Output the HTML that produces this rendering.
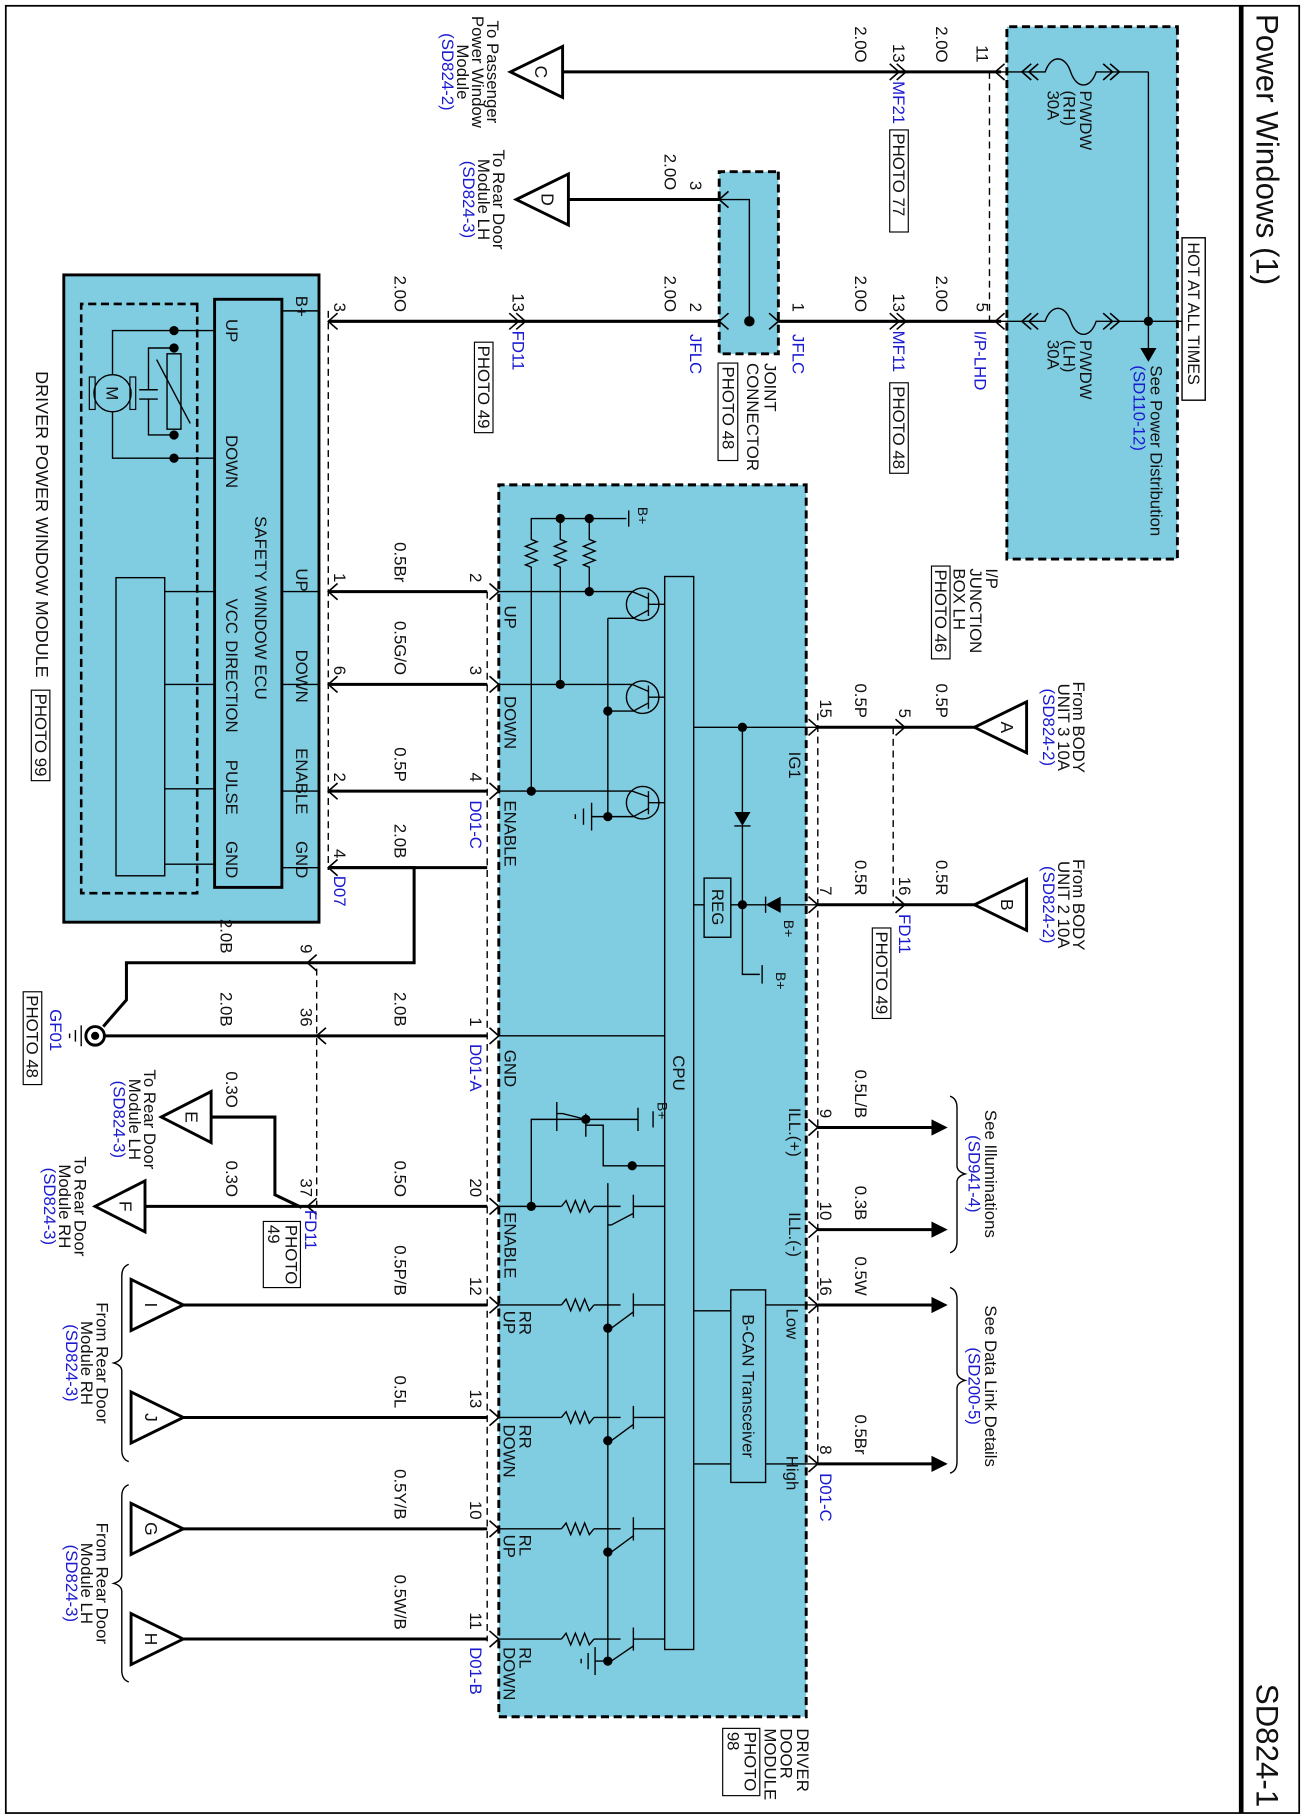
<!DOCTYPE html>
<html><head><meta charset="utf-8"><style>
html,body{margin:0;padding:0;background:#fff}
svg{display:block}
text{font-family:"Liberation Sans",sans-serif;font-size:14.5px;fill:#111}
.b{fill:#1a1ad0}
.w{stroke:#000;stroke-width:2.6;fill:none}
.l{stroke:#000;stroke-width:1.2;fill:none}
.d{stroke:#000;stroke-width:1.2;fill:none;stroke-dasharray:6 4}
.bx{fill:#80cde2;stroke:#000;stroke-width:2.5;stroke-dasharray:7 4}
.m{text-anchor:middle}
.e{text-anchor:end}
</style></head><body>
<svg width="1305" height="1820" viewBox="0 0 1125 1569" preserveAspectRatio="none" xmlns="http://www.w3.org/2000/svg">
<defs>
<path id="cv" d="M-7,-8 L0,0 L7,-8" fill="none" stroke="#000" stroke-width="1.4"/>
<path id="cu" d="M-7,8 L0,0 L7,8" fill="none" stroke="#000" stroke-width="1.4"/>
<path id="rz" d="M0,0 L8,0 L10,-5 L14,5 L18,-5 L22,5 L26,-5 L30,5 L32,0 L40,0" fill="none" stroke="#000" stroke-width="1.2"/>
</defs>
<g transform="translate(1125,0) rotate(90)">
<rect x="5" y="5" width="1558" height="1115" fill="none" stroke="#000" stroke-width="1.5"/>
<line x1="5" y1="55" x2="1563" y2="55" stroke="#000" stroke-width="4"/>
<text x="12" y="42" style="font-size:27px">Power Windows (1)</text>
<text x="1558" y="42" style="font-size:27px;text-anchor:end">SD824-1</text>

<rect class="bx" x="23" y="110" width="459" height="147"/>
<rect x="205" y="86" width="140" height="20" fill="#fff" stroke="#000" stroke-width="1.2"/>
<text x="209" y="101" style="font-size:14px">HOT AT ALL TIMES</text>
<path class="l" d="M277,106 L277,135 M62,135 L277,135 M277,135 L302,135"/>
<path d="M300,128 L312,135 L300,142 Z" fill="#000"/>
<circle cx="277" cy="135" r="4"/>
<text x="315" y="133">See Power Distribution</text>
<text x="315" y="148" class="b">(SD110-12)</text>
<text x="490" y="275">I/P</text><text x="490" y="289">JUNCTION</text><text x="490" y="303">BOX LH</text>
<rect x="488" y="306" width="80" height="16" fill="#fff" stroke="#000"/><text x="491" y="319">PHOTO 46</text>
<path class="l" d="M62,135 L62,180 C77,185 77,197 62,202 C47,207 47,219 62,224 L62,267"/>
<path class="l" d="M277,135 L277,180 C292,185 292,197 277,202 C262,207 262,219 277,224 L277,267"/>
<use href="#cu" x="62" y="160"/><use href="#cu" x="62" y="166"/><use href="#cv" x="62" y="238"/><use href="#cv" x="62" y="244"/>
<use href="#cu" x="277" y="160"/><use href="#cu" x="277" y="166"/><use href="#cv" x="277" y="238"/><use href="#cv" x="277" y="244"/>
<text x="78" y="194">P/WDW</text><text x="78" y="208">(RH)</text><text x="78" y="222">30A</text>
<text x="293" y="194">P/WDW</text><text x="293" y="208">(LH)</text><text x="293" y="222">30A</text>
<use href="#cv" x="62" y="267"/><use href="#cv" x="277" y="267"/>
<line class="d" x1="62" y1="272" x2="277" y2="272"/>

<path class="w" d="M62,262 L62,640"/>
<text x="54" y="283" class="e">11</text>
<text x="54" y="318" class="e">2.0O</text>
<use href="#cu" x="62" y="344"/><use href="#cu" x="62" y="350"/>
<text x="54" y="355" class="e">13</text><text x="70" y="355" class="b">MF21</text>
<rect x="112" y="342" width="88" height="16" fill="#fff" stroke="#000"/><text x="115" y="355">PHOTO 77</text>
<text x="54" y="388" class="e">2.0O</text>
<path d="M40,640 L84,640 L62,685 Z" fill="#fff" stroke="#000" stroke-width="2.5"/>
<text x="62" y="664" class="m" style="font-size:15px">C</text>
<text x="62" y="705" class="m">To Passenger</text><text x="62" y="718" class="m">Power Window</text><text x="62" y="731" class="m">Module</text><text x="62" y="744" class="m b">(SD824-2)</text>

<rect class="bx" x="148" y="454" width="157" height="51"/>
<path class="l" d="M172,505 L172,479 L277,479"/>
<circle cx="277" cy="479" r="4.5"/>
<path class="w" d="M172,505 L172,635"/>
<use href="#cv" x="172" y="505"/>
<text x="164" y="530" class="e">3</text><text x="164" y="552" class="e">2.0O</text>
<path d="M150,635 L194,635 L172,680 Z" fill="#fff" stroke="#000" stroke-width="2.5"/>
<text x="172" y="658" class="m" style="font-size:15px">D</text>
<text x="172" y="700" class="m">To Rear Door</text><text x="172" y="713" class="m">Module LH</text><text x="172" y="726" class="m b">(SD824-3)</text>
<text x="313" y="466">JOINT</text><text x="313" y="481">CONNECTOR</text>
<rect x="313" y="489" width="84" height="17" fill="#fff" stroke="#000"/><text x="316" y="502">PHOTO 48</text>

<path class="w" d="M277,262 L277,454 M277,505 L277,842"/>
<use href="#cu" x="277" y="454"/><use href="#cv" x="277" y="505"/>
<text x="269" y="283" class="e">5</text><text x="285" y="285" class="b">I/P-LHD</text>
<text x="269" y="318" class="e">2.0O</text>
<use href="#cu" x="277" y="344"/><use href="#cu" x="277" y="350"/>
<text x="269" y="355" class="e">13</text><text x="285" y="355" class="b">MF11</text>
<rect x="330" y="342" width="78" height="16" fill="#fff" stroke="#000"/><text x="333" y="355">PHOTO 48</text>
<text x="269" y="388" class="e">2.0O</text>
<text x="269" y="442" class="e">1</text><text x="288" y="442" class="b">JFLC</text>
<text x="269" y="530" class="e">2</text><text x="288" y="530" class="b">JFLC</text>
<text x="269" y="552" class="e">2.0O</text>
<use href="#cu" x="277" y="672"/><use href="#cu" x="277" y="678"/>
<text x="269" y="683" class="e">13</text><text x="285" y="683" class="b">FD11</text>
<rect x="295" y="700" width="78" height="16" fill="#fff" stroke="#000"/><text x="298" y="713">PHOTO 49</text>
<text x="269" y="785" class="e">2.0O</text>
<text x="269" y="837" class="e">3</text>
<use href="#cv" x="277" y="842"/>

<rect x="237" y="850" width="558" height="220" fill="#80cde2" stroke="#000" stroke-width="2.5"/>
<rect x="262" y="955" width="508" height="100" fill="none" stroke="#000" stroke-width="2.2" stroke-dasharray="7 4"/>
<rect x="258" y="882" width="507" height="58" fill="none" stroke="#000" stroke-width="2.5"/>
<path class="l" d="M268,850 L268,882"/>
<text x="255" y="870">B+</text>
<text x="275" y="930">UP</text><text x="375" y="930">DOWN</text>
<text x="445" y="905">SAFETY WINDOW ECU</text>
<text x="516" y="930">VCC</text><text x="552" y="930">DIRECTION</text><text x="655" y="930">PULSE</text><text x="725" y="930">GND</text>
<text x="490" y="870">UP</text><text x="560" y="870">DOWN</text><text x="645" y="870">ENABLE</text><text x="725" y="870">GND</text>
<path class="l" d="M510,850 L510,882 M590,850 L590,882 M682,850 L682,882 M748,850 L748,882"/>
<path class="l" d="M285,940 L285,1028 L323,1028 M355,1028 L395,1028 L395,940 M300,975 L300,997 L336,997 M344,997 L375,997 L375,975"/>
<path class="l" d="M336,989 L336,1005 M344,989 L344,1005"/>
<rect x="305" y="969" width="65" height="12" fill="none" stroke="#000" stroke-width="1.2"/>
<path class="l" d="M310,990 L365,961"/>
<circle cx="339" cy="1028" r="16" fill="none" stroke="#000" stroke-width="1.2"/>
<rect x="325" y="1008" width="28" height="5" fill="none" stroke="#000"/><rect x="325" y="1043" width="28" height="5" fill="none" stroke="#000"/>
<text x="339" y="1033" class="m">M</text>
<circle cx="285" cy="975" r="4"/><circle cx="300" cy="975" r="4"/><circle cx="375" cy="975" r="4"/><circle cx="395" cy="975" r="4"/>
<rect x="498" y="983" width="257" height="42" fill="none" stroke="#000" stroke-width="1.2"/>
<path class="l" d="M510,940 L510,983 M590,940 L590,983 M680,940 L680,983 M745,940 L745,983"/>
<text x="320" y="1094" style="font-size:15.5px">DRIVER POWER WINDOW MODULE</text>
<rect x="595" y="1082" width="78" height="16" fill="#fff" stroke="#000"/><text x="598" y="1095">PHOTO 99</text>
<line class="d" x1="268" y1="842" x2="750" y2="842"/>

<path class="w" d="M510,705 L510,842 M590,705 L590,842 M682,705 L682,842 M748,705 L748,842"/>
<use href="#cv" x="510" y="842"/><use href="#cv" x="590" y="842"/><use href="#cv" x="682" y="842"/><use href="#cv" x="748" y="842"/>
<text x="502" y="720" class="e">2</text><text x="502" y="837" class="e">1</text><text x="502" y="785" class="e">0.5Br</text>
<text x="582" y="720" class="e">3</text><text x="582" y="837" class="e">6</text><text x="582" y="785" class="e">0.5G/O</text>
<text x="674" y="720" class="e">4</text><text x="674" y="837" class="e">2</text><text x="674" y="785" class="e">0.5P</text><text x="690" y="720" class="b">D01-C</text>
<text x="740" y="837" class="e">4</text><text x="755" y="837" class="b">D07</text><text x="740" y="785" class="e">2.0B</text>
<path class="w" d="M748,842 L748,768 L830,768 L830,1016 L862,1016 L885,1036"/>
<text x="822" y="935" class="e">2.0B</text>
<use href="#cv" x="830" y="860"/><text x="822" y="866" class="e">9</text>
<line class="d" x1="835" y1="852" x2="1040" y2="852"/>

<rect class="bx" x="418" y="430" width="1062" height="265"/>
<text x="1490" y="438">DRIVER</text><text x="1490" y="452">DOOR</text><text x="1490" y="466">MODULE</text>
<rect x="1490" y="470" width="58" height="32" fill="#fff" stroke="#000"/><text x="1493" y="483">PHOTO</text><text x="1493" y="498">98</text>
<line class="d" x1="510" y1="705" x2="1415" y2="705"/>
<line class="d" x1="615" y1="420" x2="1265" y2="420"/>
<line class="d" x1="627" y1="355" x2="780" y2="355"/>
<rect x="497" y="527" width="925" height="25" fill="none" stroke="#000" stroke-width="1.2"/>
<text x="925" y="545" class="m">CPU</text>
<path class="l" d="M447,617 L447,667 L457,667 M447,642 L457,642 M447,617 L457,617 M447,617 L447,585"/>
<path class="l" d="M440,583 L454,583" stroke-width="3"/><text x="437" y="575" style="font-size:12px">B+</text>
<use href="#rz" x="457" y="617"/><use href="#rz" x="457" y="642"/><use href="#rz" x="457" y="667"/>
<path class="l" d="M497,617 L510,617 M497,642 L590,642 M497,667 L682,667"/>
<circle cx="447" cy="617" r="4"/><circle cx="447" cy="642" r="4"/>
<circle cx="510" cy="617" r="4"/><circle cx="590" cy="642" r="4"/><circle cx="682" cy="667" r="4"/>
<path class="l" d="M510,695 L510,580 M590,695 L590,580 M682,695 L682,580"/>
<circle cx="521" cy="571" r="14" fill="none" stroke="#000" stroke-width="1.2"/>
<circle cx="601" cy="571" r="14" fill="none" stroke="#000" stroke-width="1.2"/>
<circle cx="692" cy="571" r="14" fill="none" stroke="#000" stroke-width="1.2"/>
<path class="l" d="M511,566 L531,566 M521,566 L521,552 M516,566 L510,580 M526,566 L533,579 L533,601 M591,566 L611,566 M601,566 L601,552 M596,566 L590,580 M606,566 L613,579 L613,601 M682,566 L702,566 M692,566 L692,552 M687,566 L682,580 M697,566 L704,579 L704,601 M533,601 L704,601 L704,615"/>
<circle cx="613" cy="601" r="4"/><circle cx="704" cy="601" r="4"/>
<path class="l" d="M692,615 L716,615 M697,622 L711,622 M702,629 L706,629"/>
<text x="522" y="690">UP</text><text x="600" y="690">DOWN</text><text x="690" y="690">ENABLE</text>
<use href="#cu" x="510" y="695"/><use href="#cu" x="590" y="695"/><use href="#cu" x="682" y="695"/>
<path class="l" d="M627,527 L627,420 M627,485 L700,485 M712,485 L780,485 M780,420 L780,452 M780,465 L780,495 M780,518 L780,527 M780,485 L840,485 L840,470"/>
<path d="M700,478 L700,492 L712,485 Z" fill="#000"/><path class="l" d="M712,478 L712,492 M773,465 L787,465 M832,468 L848,468" stroke-width="2"/>
<path d="M773,452 L787,452 L780,465 Z" fill="#000"/>
<circle cx="627" cy="485" r="4"/><circle cx="780" cy="485" r="4"/>
<rect x="757" y="495" width="51" height="23" fill="none" stroke="#000" stroke-width="1.2"/>
<text x="782" y="511" class="m">REG</text>
<text x="648" y="445">IG1</text>
<text x="793" y="449" style="font-size:12px">B+</text><text x="838" y="456" style="font-size:12px">B+</text>
<path class="w" d="M627,420 L627,285 M780,420 L780,285"/>
<use href="#cu" x="627" y="420"/><use href="#cu" x="780" y="420"/>
<use href="#cu" x="627" y="345"/><use href="#cu" x="780" y="345"/>
<text x="619" y="418" class="e">15</text><text x="619" y="388" class="e">0.5P</text><text x="619" y="350" class="e">5</text><text x="619" y="318" class="e">0.5P</text>
<text x="772" y="418" class="e">7</text><text x="772" y="388" class="e">0.5R</text><text x="772" y="350" class="e">16</text><text x="772" y="318" class="e">0.5R</text>
<text x="788" y="350" class="b">FD11</text>
<rect x="800" y="357" width="78" height="16" fill="#fff" stroke="#000"/><text x="803" y="370">PHOTO 49</text>
<path d="M627,285 L605,240 L649,240 Z" fill="#fff" stroke="#000" stroke-width="2.5"/><text x="627" y="262" class="m" style="font-size:15px">A</text>
<path d="M780,285 L758,240 L802,240 Z" fill="#fff" stroke="#000" stroke-width="2.5"/><text x="780" y="262" class="m" style="font-size:15px">B</text>
<text x="627" y="200" class="m">From BODY</text><text x="627" y="213" class="m">UNIT 3 10A</text><text x="627" y="226" class="m b">(SD824-2)</text>
<text x="780" y="200" class="m">From BODY</text><text x="780" y="213" class="m">UNIT 2 10A</text><text x="780" y="226" class="m b">(SD824-2)</text>
<path class="w" d="M972,420 L972,318 M1060,420 L1060,318"/>
<path d="M972,308 L965,322 L979,322 Z M1060,308 L1053,322 L1067,322 Z"/>
<use href="#cu" x="972" y="420"/><use href="#cu" x="1060" y="420"/>
<text x="955" y="445">ILL.(+)</text><text x="1045" y="445">ILL.(-)</text>
<text x="964" y="418" class="e">9</text><text x="964" y="388" class="e">0.5L/B</text>
<text x="1052" y="418" class="e">10</text><text x="1052" y="388" class="e">0.3B</text>
<path class="l" d="M945,306 Q947,300 955,300 L1005,300 Q1010,300 1012,293 Q1014,300 1019,300 L1070,300 Q1078,300 1080,306"/>
<text x="1012" y="276" class="m">See Illuminations</text><text x="1012" y="290" class="m b">(SD941-4)</text>
<rect x="1112" y="465" width="166" height="30" fill="none" stroke="#000" stroke-width="1.2"/>
<text x="1195" y="485" class="m">B-CAN Transceiver</text>
<path class="l" d="M1125,465 L1125,420 M1262,465 L1262,420 M1130,495 L1130,527 M1262,495 L1262,527"/>
<path class="w" d="M1125,420 L1125,318 M1262,420 L1262,318"/>
<path d="M1125,308 L1118,322 L1132,322 Z M1262,308 L1255,322 L1269,322 Z"/>
<use href="#cu" x="1125" y="420"/><use href="#cu" x="1262" y="420"/>
<text x="1128" y="447">Low</text><text x="1255" y="447">High</text>
<text x="1117" y="418" class="e">16</text><text x="1117" y="388" class="e">0.5W</text>
<text x="1254" y="418" class="e">8</text><text x="1254" y="388" class="e">0.5Br</text><text x="1270" y="418" class="b">D01-C</text>
<path class="l" d="M1110,306 Q1112,300 1120,300 L1183,300 Q1188,300 1190,293 Q1192,300 1197,300 L1260,300 Q1268,300 1270,306"/>
<text x="1195" y="276" class="m">See Data Link Details</text><text x="1195" y="290" class="m b">(SD200-5)</text>

<path class="w" d="M893,705 L893,1035"/>
<path class="l" d="M893,695 L893,552"/>
<use href="#cu" x="893" y="695"/><use href="#cv" x="893" y="852"/>
<circle cx="893" cy="1043" r="8" fill="#fff" stroke="#000" stroke-width="2.5"/><circle cx="893" cy="1043" r="3.5"/>
<path class="l" d="M884,1055 L902,1055 M888,1060 L898,1060 M891,1065 L895,1065" stroke-width="1.5"/>
<text x="885" y="720" class="e">1</text><text x="900" y="720" class="b">D01-A</text><text x="905" y="690">GND</text>
<text x="885" y="785" class="e">2.0B</text><text x="885" y="866" class="e">36</text><text x="885" y="935" class="e">2.0B</text>
<text x="870" y="1082" class="b">GF01</text>
<rect x="855" y="1089" width="80" height="16" fill="#fff" stroke="#000"/><text x="858" y="1102">PHOTO 48</text>

<path class="w" d="M1040,705 L1040,1000 M1041,865 L1030,888 L963,888 L963,943"/>
<use href="#cu" x="1040" y="695"/><use href="#cv" x="1040" y="860"/>
<text x="1032" y="720" class="e">20</text><text x="1045" y="690">ENABLE</text><text x="1032" y="785" class="e">0.5O</text>
<text x="1032" y="866" class="e">37</text><text x="1043" y="862" class="b">FD11</text>
<rect x="1053" y="866" width="57" height="32" fill="#fff" stroke="#000"/><text x="1056" y="879">PHOTO</text><text x="1056" y="894">49</text>
<text x="955" y="930" class="e">0.3O</text><text x="1032" y="930" class="e">0.3O</text>
<path d="M941,943 L985,943 L963,986 Z" fill="#fff" stroke="#000" stroke-width="2.5"/><text x="963" y="965" class="m" style="font-size:15px">E</text>
<path d="M1018,1000 L1062,1000 L1040,1043 Z" fill="#fff" stroke="#000" stroke-width="2.5"/><text x="1040" y="1022" class="m" style="font-size:15px">F</text>
<text x="965" y="1001" class="m">To Rear Door</text><text x="965" y="1014" class="m">Module LH</text><text x="965" y="1027" class="m b">(SD824-3)</text>
<text x="1040" y="1061" class="m">To Rear Door</text><text x="1040" y="1074" class="m">Module RH</text><text x="1040" y="1087" class="m b">(SD824-3)</text>
<path class="l" d="M1040,667 L965,667 L965,620 M965,620 L965,575 M955,575 L975,575 M958,562 L972,562"/>
<path class="l" d="M960,620 L980,620 M970,620 L970,605 L1005,605 L1005,552 M965,620 L960,640 L960,645 M950,645 L975,645"/>
<circle cx="965" cy="620" r="4"/><circle cx="1005" cy="580" r="4"/>
<text x="950" y="558" style="font-size:12px">B+</text>
<circle cx="1040" cy="667" r="4"/>
<path class="l" d="M1020,601 L1432,601"/>
<g class="l">
<path d="M1040,695 L1040,641 M1040,613 L1040,590"/>
<path d="M1030,579 L1050,579 M1040,579 L1040,552 M1046,579 L1056,598 L1056,601"/>
<path d="M1125,695 L1125,641 M1125,613 L1125,590 M1115,579 L1135,579 M1125,579 L1125,552 M1131,579 L1145,598 L1145,601"/>
<path d="M1222,695 L1222,641 M1222,613 L1222,590 M1212,579 L1232,579 M1222,579 L1222,552 M1228,579 L1242,598 L1242,601"/>
<path d="M1318,695 L1318,641 M1318,613 L1318,590 M1308,579 L1328,579 M1318,579 L1318,552 M1324,579 L1338,598 L1338,601"/>
<path d="M1413,695 L1413,641 M1413,613 L1413,590 M1403,579 L1423,579 M1413,579 L1413,552 M1419,579 L1432,598 L1432,601 M1432,601 L1432,612"/>
<path d="M1420,612 L1444,612 M1425,618 L1439,618 M1430,624 L1434,624"/>
</g>
<path class="l" d="M1040,641 L1035,637 L1045,633 L1035,629 L1045,625 L1035,621 L1045,617 L1040,613"/>
<path class="l" d="M1125,641 L1120,637 L1130,633 L1120,629 L1130,625 L1120,621 L1130,617 L1125,613"/>
<path class="l" d="M1222,641 L1217,637 L1227,633 L1217,629 L1227,625 L1217,621 L1227,617 L1222,613"/>
<path class="l" d="M1318,641 L1313,637 L1323,633 L1313,629 L1323,625 L1313,621 L1323,617 L1318,613"/>
<path class="l" d="M1413,641 L1408,637 L1418,633 L1408,629 L1418,625 L1408,621 L1418,617 L1413,613"/>
<circle cx="1145" cy="601" r="4"/><circle cx="1242" cy="601" r="4"/><circle cx="1338" cy="601" r="4"/><circle cx="1432" cy="601" r="4"/>
<path class="w" d="M1125,705 L1125,967 M1222,705 L1222,967 M1318,705 L1318,967 M1413,705 L1413,967"/>
<use href="#cu" x="1125" y="695"/><use href="#cu" x="1222" y="695"/><use href="#cu" x="1318" y="695"/><use href="#cu" x="1413" y="695"/>
<text x="1130" y="677">RR</text><text x="1130" y="691">UP</text>
<text x="1228" y="677">RR</text><text x="1228" y="691">DOWN</text>
<text x="1323" y="677">RL</text><text x="1323" y="691">UP</text>
<text x="1420" y="677">RL</text><text x="1420" y="691">DOWN</text>
<text x="1117" y="720" class="e">12</text><text x="1117" y="785" class="e">0.5P/B</text>
<text x="1214" y="720" class="e">13</text><text x="1214" y="785" class="e">0.5L</text>
<text x="1310" y="720" class="e">10</text><text x="1310" y="785" class="e">0.5Y/B</text>
<text x="1405" y="720" class="e">11</text><text x="1405" y="785" class="e">0.5W/B</text><text x="1420" y="720" class="b">D01-B</text>
<path d="M1125,967 L1103,1012 L1147,1012 Z M1222,967 L1200,1012 L1244,1012 Z M1318,967 L1296,1012 L1340,1012 Z M1413,967 L1391,1012 L1435,1012 Z" fill="#fff" stroke="#000" stroke-width="2.5"/>
<text x="1125" y="1000" class="m" style="font-size:15px">I</text><text x="1222" y="1000" class="m" style="font-size:15px">J</text>
<text x="1318" y="1000" class="m" style="font-size:15px">G</text><text x="1413" y="1000" class="m" style="font-size:15px">H</text>
<path class="l" d="M1090,1014 Q1092,1020 1100,1020 L1168,1020 Q1173,1020 1175,1027 Q1177,1020 1182,1020 L1250,1020 Q1258,1020 1260,1014"/>
<path class="l" d="M1280,1014 Q1282,1020 1290,1020 L1358,1020 Q1363,1020 1365,1027 Q1367,1020 1372,1020 L1440,1020 Q1448,1020 1450,1014"/>
<text x="1175" y="1042" class="m">From Rear Door</text><text x="1175" y="1055" class="m">Module RH</text><text x="1175" y="1068" class="m b">(SD824-3)</text>
<text x="1365" y="1042" class="m">From Rear Door</text><text x="1365" y="1055" class="m">Module LH</text><text x="1365" y="1068" class="m b">(SD824-3)</text>
</g>
</svg>
</body></html>
